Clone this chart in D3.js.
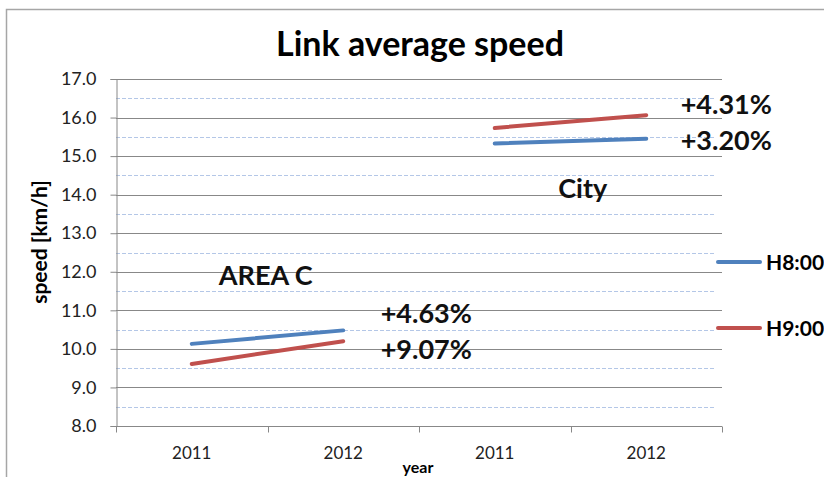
<!DOCTYPE html>
<html>
<head>
<meta charset="utf-8">
<script src="https://cdn.jsdelivr.net/npm/d3@7"></script>
<style>
  body { margin: 0; background: #fff; }
  svg { font-family: Lato, "Open Sans", sans-serif; }
</style>
</head>
<body>
<div id="vis"></div>
<script>
// chart values
const categories = ["2011", "2012", "2011", "2012"];
const groups = ["AREA C", "City"];
const h8 = [10.13, 10.48, 15.33, 15.45];
const h9 = [9.61, 10.2, 15.73, 16.06];
const h8Change = ["+4.63%", "+3.20%"];
const h9Change = ["+9.07%", "+4.31%"];
const yTicks = [8, 9, 10, 11, 12, 13, 14, 15, 16, 17];
const yHalf = [8.5, 9.5, 10.5, 11.5, 12.5, 13.5, 14.5, 15.5, 16.5];

const W = 824, H = 477;
const mLeft = 116, mRight = 722, mTop = 79, mBottom = 426;
const blue = "#4f81bd", red = "#c0504d", grid = "#888";

const svg = d3.select("#vis").append("svg").attr("width", W).attr("height", H);

// outer chart frame
svg.append("rect")
  .attr("x", 6.5).attr("y", 9.5)
  .attr("width", 840).attr("height", 490)
  .attr("fill", "none").attr("stroke", "#a6a6a6").attr("stroke-width", 1.5);

const x = d3.scaleBand().domain(d3.range(categories.length)).range([mLeft, mRight]);
const y = d3.scaleLinear().domain([8, 17]).range([mBottom, mTop]);
const cx = i => x(i) + x.bandwidth() / 2;

// dashed half gridlines
svg.append("g").selectAll("line").data(yHalf).join("line")
  .attr("x1", mLeft).attr("x2", mRight - 8)
  .attr("y1", d => Math.round(y(d)) + 0.5).attr("y2", d => Math.round(y(d)) + 0.5)
  .attr("stroke", "#b4c7e7").attr("stroke-dasharray", "4,2");

// solid gridlines
svg.append("g").selectAll("line").data(yTicks.slice(1)).join("line")
  .attr("x1", mLeft).attr("x2", mRight)
  .attr("y1", d => Math.round(y(d)) + 0.5).attr("y2", d => Math.round(y(d)) + 0.5)
  .attr("stroke", grid);

// y axis
const yAxis = svg.append("g")
  .attr("transform", `translate(${mLeft + 0.5},0)`)
  .call(d3.axisLeft(y).tickValues(yTicks).tickFormat(d3.format(".1f")).tickSize(6).tickPadding(14));
yAxis.select(".domain").attr("stroke", grid);
yAxis.selectAll(".tick line").attr("stroke", grid);
yAxis.selectAll("text").attr("font-size", 18).attr("fill", "#222").attr("font-family", "Lato, sans-serif");

// x axis
const xAxis = svg.append("g").attr("transform", `translate(0,${Math.round(mBottom) + 0.5})`);
xAxis.append("line").attr("x1", mLeft).attr("x2", mRight).attr("stroke", grid);
xAxis.selectAll(".tk").data(d3.range(categories.length + 1)).join("line")
  .attr("x1", i => Math.round(mLeft + i * x.bandwidth()) + 0.5)
  .attr("x2", i => Math.round(mLeft + i * x.bandwidth()) + 0.5)
  .attr("y1", 0).attr("y2", 6).attr("stroke", grid);
xAxis.selectAll("text").data(categories).join("text")
  .attr("x", (d, i) => cx(i)).attr("y", 32)
  .attr("text-anchor", "middle").attr("font-size", 17).attr("fill", "#222")
  .text(d => d);

// axis titles
svg.append("text")
  .attr("transform", `translate(47,242) rotate(-90)`)
  .attr("text-anchor", "middle").attr("font-size", 21).attr("font-weight", "bold")
  .text("speed [km/h]");
svg.append("text")
  .attr("x", 418).attr("y", 473).attr("text-anchor", "middle")
  .attr("font-size", 16).attr("font-weight", "bold").text("year");

// title
svg.append("text")
  .attr("x", 420).attr("y", 56).attr("text-anchor", "middle")
  .attr("font-size", 34).attr("font-weight", "bold").text("Link average speed");

// series lines, one segment per group
const line = d3.line().x(d => cx(d.i)).y(d => y(d.v));
const series = [{ vals: h8, color: blue }, { vals: h9, color: red }];
series.forEach(s => {
  groups.forEach((g, gi) => {
    const pts = [gi * 2, gi * 2 + 1].map(i => ({ i, v: s.vals[i] }));
    svg.append("path").attr("d", line(pts))
      .attr("fill", "none").attr("stroke", s.color)
      .attr("stroke-width", 4).attr("stroke-linecap", "round");
  });
});

// annotations
const ann = svg.append("g").attr("font-weight", "bold").attr("fill", "#111")
  .attr("text-anchor", "middle").attr("font-size", 27);
ann.append("text").attr("x", cx(0) + 74).attr("y", 285).text(groups[0]);
ann.append("text").attr("x", cx(2) + 88).attr("y", 198).text(groups[1]);
ann.append("text").attr("x", cx(1) + 83).attr("y", 323).text(h8Change[0]);
ann.append("text").attr("x", cx(1) + 83).attr("y", 359).text(h9Change[0]);
ann.append("text").attr("x", cx(3) + 80).attr("y", 114).text(h9Change[1]);
ann.append("text").attr("x", cx(3) + 80).attr("y", 150).text(h8Change[1]);

// legend
const legend = [{ name: "H8:00", color: blue, y: 262 }, { name: "H9:00", color: red, y: 328 }];
const lg = svg.append("g").selectAll("g").data(legend).join("g")
  .attr("transform", d => `translate(718,${d.y})`);
lg.append("line").attr("x1", 0).attr("x2", 42)
  .attr("stroke", d => d.color).attr("stroke-width", 4).attr("stroke-linecap", "round");
lg.append("text").attr("x", 48).attr("y", 7.5).attr("font-size", 21).attr("font-weight", "bold")
  .text(d => d.name);
</script>
</body>
</html>
